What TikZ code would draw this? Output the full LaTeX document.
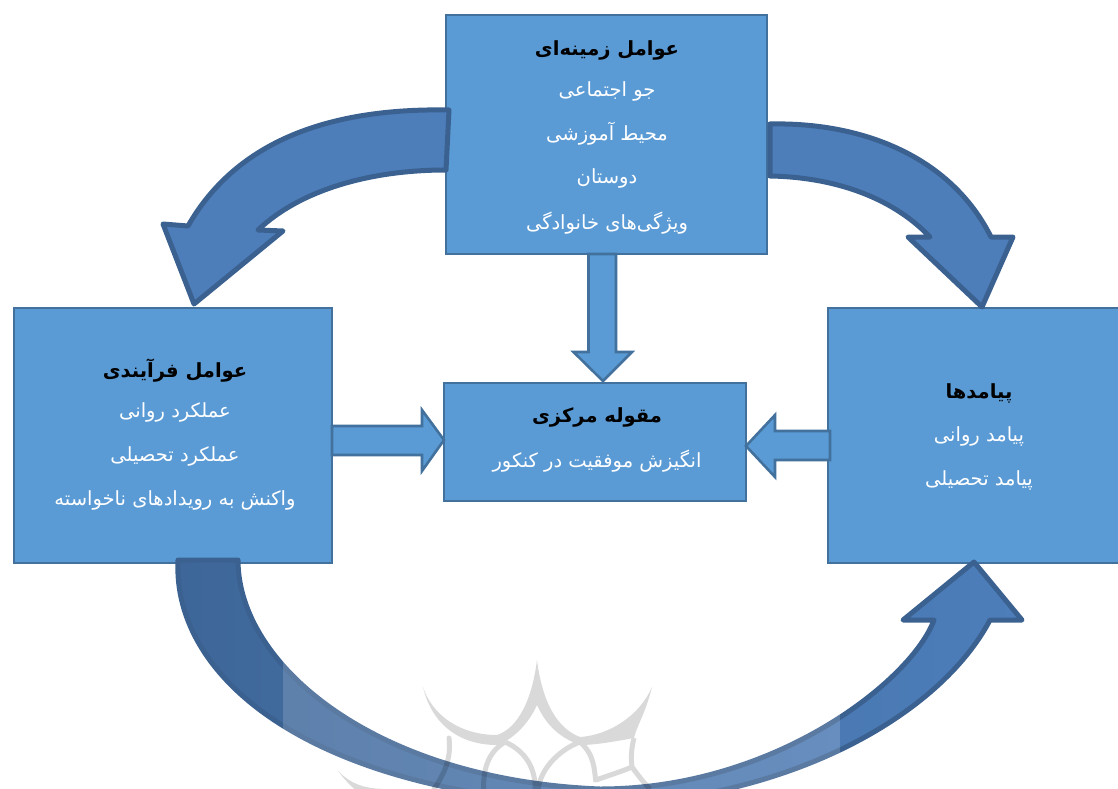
\documentclass[tikz,border=0pt]{standalone}
\usepackage{fontspec}
\usetikzlibrary{calc}
\TeXXeTstate=1
\newfontfamily\arabicfont[Script=Arabic]{DejaVu Sans}
\definecolor{boxfill}{HTML}{5B9BD5}
\definecolor{boxline}{HTML}{41719C}
\definecolor{bendfill}{HTML}{4D7EBA}
\definecolor{bendline}{HTML}{3B6190}
\definecolor{benddark}{HTML}{3E6698}
\tikzset{
  panel/.style={draw=boxline,fill=boxfill,line width=2.6pt,inner sep=0pt,outer sep=0pt},
  flatarrow/.style={draw=boxline,fill=boxfill,line width=2.6pt,line join=miter},
  bendarrow/.style={draw=bendline,fill=bendfill,line width=5pt,line join=round},
  headtext/.style={font=\arabicfont\bfseries\fontsize{19.5}{22}\selectfont,text=black,inner sep=0pt},
  bodytext/.style={font=\arabicfont\fontsize{19.5}{22}\selectfont,text=white,inner sep=0pt}
}
\newcommand{\rtl}[1]{\beginR #1\endR}
\begin{document}
\begin{tikzpicture}[x=1pt,y=-1pt]
\useasboundingbox (0,0) rectangle (1118,789);
\clip (0,0) rectangle (1118,789);
\fill[white] (0,0) rectangle (1118,789);
% boxes
\node[panel,minimum width=321pt,minimum height=239pt] (topbox) at (606.5,134.5) {};
\node[panel,minimum width=318pt,minimum height=255pt] (leftbox) at (173,435.5) {};
\node[panel,minimum width=302pt,minimum height=118pt] (centerbox) at (595,442) {};
\node[panel,minimum width=294pt,minimum height=255pt] (rightbox) at (975,435.5) {};
% straight block arrows
\draw[flatarrow] ([xshift=-18pt]topbox.south) -- ++(0,98) -- ++(-15,0)
  -- ([xshift=8pt,yshift=2pt]centerbox.north) -- ++(29,-29) -- ++(-16,0)
  -- ([xshift=9.5pt]topbox.south) -- cycle;
\draw[flatarrow] ([yshift=9.5pt]leftbox.east) -- ++(90,0) -- ++(0,-16)
  -- ([yshift=2pt]centerbox.west) -- ++(-22,31) -- ++(0,-16)
  -- ([yshift=-19.5pt]leftbox.east) -- cycle;
\draw[flatarrow] ([xshift=2pt,yshift=4.5pt]rightbox.west) -- ++(-55,0) -- ++(0,-16)
  -- ([yshift=-4pt]centerbox.east) -- ++(29,31) -- ++(0,-17)
  -- ([xshift=2pt,yshift=-24.5pt]rightbox.west) -- cycle;
% curved block arrows
\draw[bendarrow] (449,110) .. controls (340,108) and (240,135) .. (188,226)
  -- (163,224) -- ([xshift=21pt,yshift=4pt]leftbox.north) -- (283,231) -- (258,230)
  .. controls (300,190) and (370,170) .. (446,170) -- cycle;
\draw[bendarrow] (770,124) .. controls (860,122) and (950,155) .. (991,237)
  -- (1013,237) -- ([xshift=7pt,yshift=1pt]rightbox.north) -- (908,237) -- (930,237)
  .. controls (890,195) and (830,177) .. (770,176) -- cycle;
\draw[bendarrow,draw=bendline,left color=benddark,right color=bendfill,shading angle=90]
  ([xshift=5pt,yshift=3pt]leftbox.south) .. controls (172,680) and (315,795) .. (600,805)
  .. controls (790,800) and (940,715) .. (990,620)
  -- (1022,620) -- ([xshift=-1pt,yshift=1pt]rightbox.south) -- (903,620) -- (934,620)
  .. controls (912,680) and (775,789) .. (600,789)
  .. controls (375,780) and (238,665) .. ([xshift=65pt,yshift=3pt]leftbox.south) -- cycle;
% watermark
\fill[white,opacity=.16] (283,650) rectangle (840,789);
\begin{scope}[transparency group,opacity=.15]
  \fill[black] (423,687) .. controls (432,715) and (460,735) .. (497,735)
    .. controls (518,728) and (532,700) .. (537,660)
    .. controls (542,700) and (556,728) .. (580,737)
    .. controls (610,735) and (640,715) .. (652,687)
    .. controls (645,715) and (637,725) .. (634,738)
    .. controls (612,742) and (595,745) .. (580,745)
    .. controls (560,738) and (546,725) .. (537,705)
    .. controls (528,725) and (512,740) .. (497,745)
    .. controls (460,745) and (432,725) .. (423,687) -- cycle;
  \draw[black,line width=5pt,line cap=round]
    (449,738) .. controls (451,755) and (447,770) .. (434,789);
  \draw[black,line width=5pt]
    (505,742) .. controls (488,752) and (482,770) .. (484,795)
    (505,742) .. controls (528,752) and (537,772) .. (535,795)
    (580,742) .. controls (558,750) and (537,772) .. (538,795)
    (580,742) .. controls (595,755) and (594,770) .. (596,782)
    (596,780) .. controls (610,775) and (620,772) .. (632,767)
    (634,738) .. controls (631,750) and (631,758) .. (632,767)
    (632,767) .. controls (638,775) and (643,782) .. (650,789);
  \fill[black] (338,771) .. controls (352,785) and (365,788) .. (382,789)
    -- (362,795) .. controls (352,788) and (345,780) .. (338,771) -- cycle;
\end{scope}
% labels: top box
\node[headtext] (h1) at (607,50) {\rtl{عوامل زمینه‌ای}};
\node[bodytext] (t11) at (607,91) {\rtl{جو اجتماعی}};
\node[bodytext] (t12) at (607,134) {\rtl{محیط آموزشی}};
\node[bodytext] (t13) at (607,178) {\rtl{دوستان}};
\node[bodytext] (t14) at (607,223) {\rtl{ویژگی‌های خانوادگی}};
% labels: left box
\node[headtext] (h2) at (175,371) {\rtl{عوامل فرآیندی}};
\node[bodytext] (t21) at (175,412) {\rtl{عملکرد روانی}};
\node[bodytext] (t22) at (175,456) {\rtl{عملکرد تحصیلی}};
\node[bodytext] (t23) at (175,500) {\rtl{واکنش به رویدادهای ناخواسته}};
% labels: centre box
\node[headtext] (h3) at (597,417) {\rtl{مقوله مرکزی}};
\node[bodytext] (t31) at (597,461) {\rtl{انگیزش موفقیت در کنکور}};
% labels: right box
\node[headtext] (h4) at (979,393) {\rtl{پیامدها}};
\node[bodytext] (t41) at (979,436) {\rtl{پیامد روانی}};
\node[bodytext] (t42) at (979,480) {\rtl{پیامد تحصیلی}};
\end{tikzpicture}
\end{document}
